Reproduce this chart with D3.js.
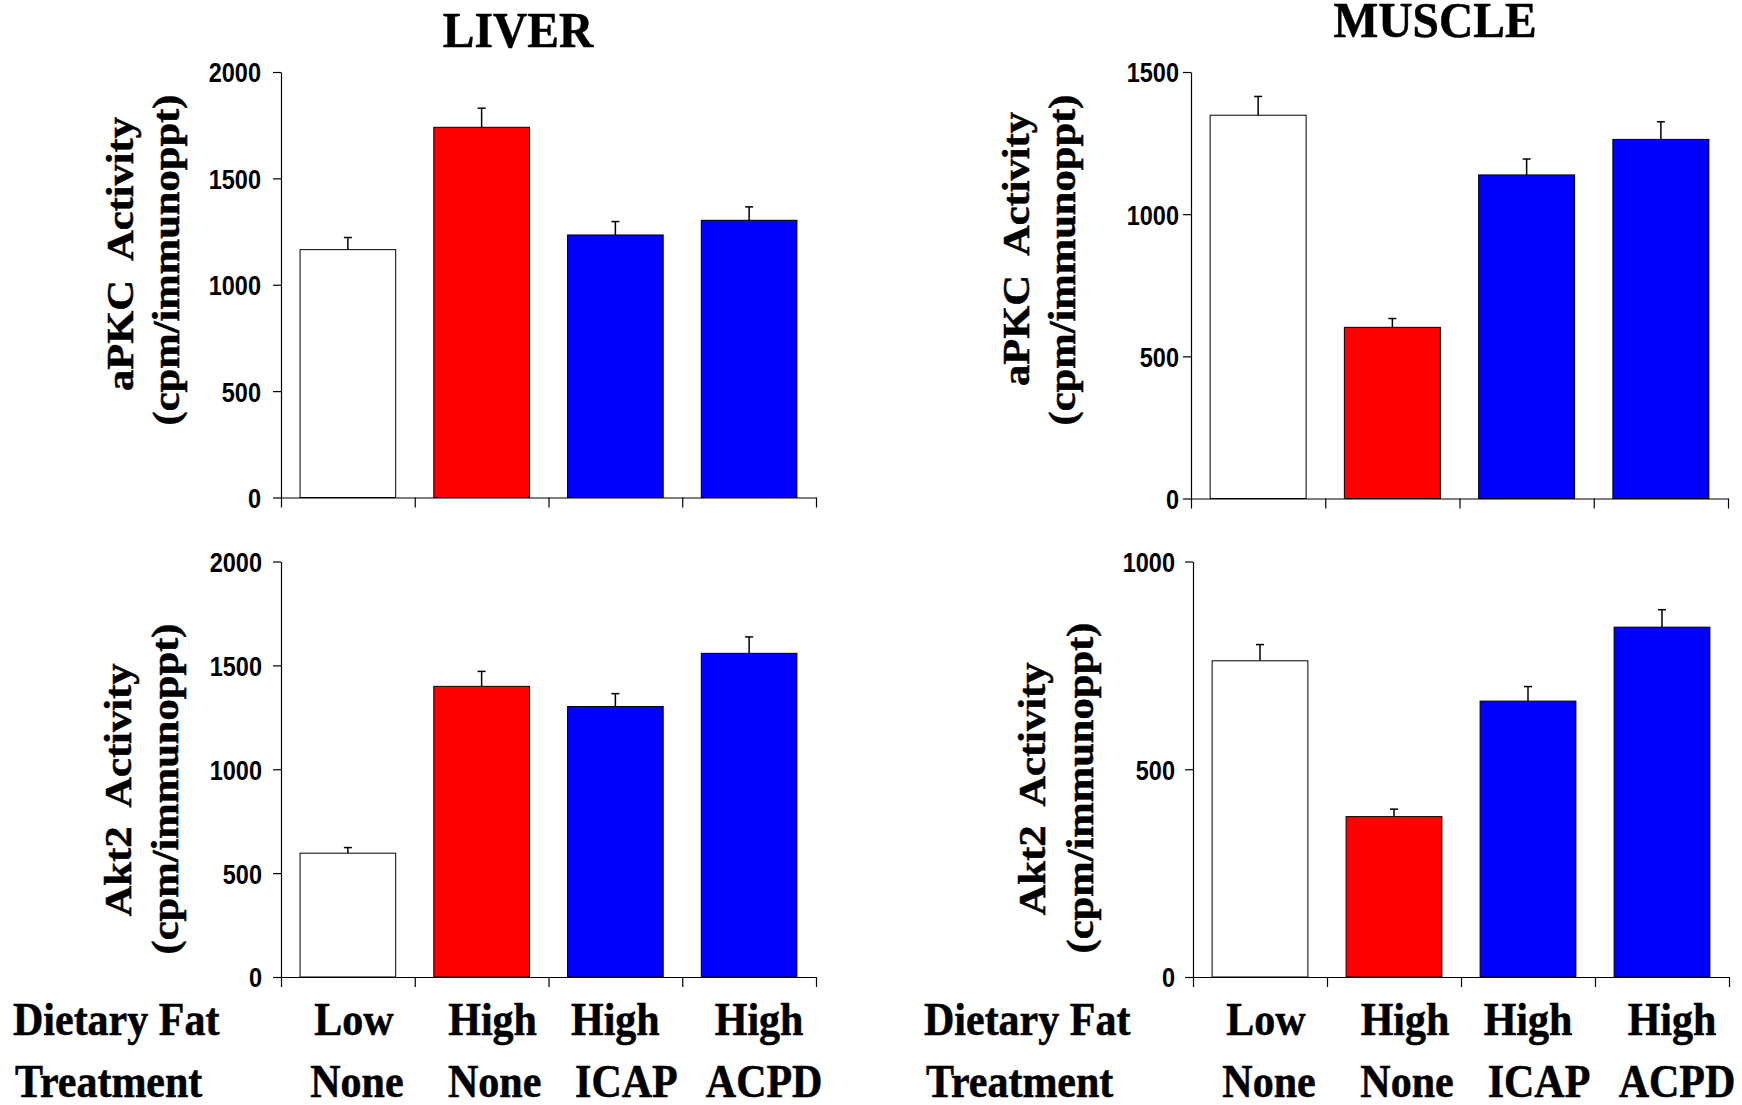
<!DOCTYPE html>
<html>
<head>
<meta charset="utf-8">
<script src="https://cdn.jsdelivr.net/npm/d3@7"></script>
<style>
  body { margin: 0; background: #fff; }
  svg { display: block; }
  text { white-space: pre; }
  text.serif { stroke: #000; stroke-width: 0.5px; }
</style>
</head>
<body>
<svg id="fig" width="1742" height="1105"></svg>
<script>
// ---- data ----
const dietaryFat = ["Low", "High", "High", "High"];
const treatment  = ["None", "None", "ICAP", "ACPD"];
const groups     = ["Low/None", "High/None", "High/ICAP", "High/ACPD"];
const barColors  = ["#ffffff", "#ff0000", "#0000ff", "#0000ff"];

const liverAPKC     = [1165, 1740, 1234, 1303];
const liverAPKCsem  = [57, 90, 63, 63];
const muscleAPKC    = [1348, 602, 1138, 1263];
const muscleAPKCsem = [66, 31, 56, 62];
const liverAkt2     = [596, 1399, 1302, 1558];
const liverAkt2sem  = [27, 72, 62, 79];
const muscleAkt2    = [761, 386, 664, 842];
const muscleAkt2sem = [39, 18, 35, 42];

const liverTicks      = [0, 500, 1000, 1500, 2000];
const muscleAPKCTicks = [0, 500, 1000, 1500];
const muscleAkt2Ticks = [0, 500, 1000];

const titles = ["LIVER", "MUSCLE"];
const apkcLabel = ["aPKC  Activity", "(cpm/immunoppt)"];
const akt2Label = ["Akt2  Activity", "(cpm/immunoppt)"];
const rowLabels = ["Dietary Fat", "Treatment"];

// ---- layout ----
const serif = "'Liberation Serif', 'Times New Roman', serif";
const sans  = "'Liberation Sans', Arial, sans-serif";
const svg = d3.select("#fig");

const panels = [
  { values: liverAPKC,  sem: liverAPKCsem,  ticks: liverTicks,
    left: 281,  right: 816,  bottom: 497.5, top: 72,    gap: 20,
    ylab: apkcLabel, ylX: [133, 179],   ylY: [254, 260] },
  { values: muscleAPKC, sem: muscleAPKCsem, ticks: muscleAPKCTicks,
    left: 1191, right: 1728, bottom: 498.5, top: 72,    gap: 12,
    ylab: apkcLabel, ylX: [1029, 1075], ylY: [249, 260] },
  { values: liverAkt2,  sem: liverAkt2sem,  ticks: liverTicks,
    left: 281,  right: 816,  bottom: 977,   top: 561.5, gap: 19,
    ylab: akt2Label, ylX: [131, 178],   ylY: [790, 789] },
  { values: muscleAkt2, sem: muscleAkt2sem, ticks: muscleAkt2Ticks,
    left: 1193, right: 1729, bottom: 977,   top: 561.5, gap: 18,
    ylab: akt2Label, ylX: [1045, 1093], ylY: [789, 788] }
];

const tickFont = 23.5, tickStretch = 1.18;

panels.forEach(p => {
  const g = svg.append("g");
  const x = d3.scaleBand().domain(groups).range([p.left, p.right])
    .paddingInner(0.285).paddingOuter(0.1425);
  const y = d3.scaleLinear().domain([0, d3.max(p.ticks)]).range([p.bottom, p.top]);
  const xb = d3.scaleLinear().domain([0, groups.length]).range([p.left, p.right]);

  // bars
  g.selectAll("rect.bar").data(p.values).join("rect")
    .attr("class", "bar")
    .attr("x", (d, i) => x(groups[i]))
    .attr("y", d => y(d))
    .attr("width", x.bandwidth())
    .attr("height", d => y(0) - y(d))
    .attr("fill", (d, i) => barColors[i])
    .attr("stroke", "#000").attr("stroke-width", 1);

  // upper error bars
  const eb = g.selectAll("g.err").data(p.values).join("g").attr("class", "err")
    .attr("stroke", "#000").attr("stroke-width", 1.5);
  eb.append("line")
    .attr("x1", (d, i) => x(groups[i]) + x.bandwidth() / 2)
    .attr("x2", (d, i) => x(groups[i]) + x.bandwidth() / 2)
    .attr("y1", d => y(d))
    .attr("y2", (d, i) => y(d + p.sem[i]));
  eb.append("line")
    .attr("x1", (d, i) => x(groups[i]) + x.bandwidth() / 2 - 4)
    .attr("x2", (d, i) => x(groups[i]) + x.bandwidth() / 2 + 4)
    .attr("y1", (d, i) => y(d + p.sem[i]))
    .attr("y2", (d, i) => y(d + p.sem[i]));

  // y axis
  const ya = g.append("g").attr("transform", `translate(${p.left},0)`)
    .call(d3.axisLeft(y).tickValues(p.ticks).tickFormat(d3.format("d"))
      .tickSizeInner(8).tickSizeOuter(0));
  ya.selectAll("path,line").attr("stroke", "#000").attr("stroke-width", 1.2);
  ya.selectAll(".tick text")
    .attr("x", null).attr("dy", null)
    .attr("fill", "#000")
    .attr("transform", `translate(${-p.gap},${0.716 * tickFont * tickStretch / 2}) scale(1,${tickStretch})`)
    .style("font-family", sans).style("font-weight", "bold").style("font-size", tickFont + "px");

  // x axis with group boundary ticks
  const xa = g.append("g").attr("transform", `translate(0,${p.bottom})`)
    .call(d3.axisBottom(xb).tickValues(d3.range(groups.length + 1)).tickFormat("")
      .tickSizeInner(10).tickSizeOuter(0));
  xa.selectAll("path,line").attr("stroke", "#000").attr("stroke-width", 1.2);

  // y axis title (two lines)
  p.ylab.forEach((t, k) => {
    g.append("text").attr("class", "serif")
      .attr("transform", `translate(${p.ylX[k]},${p.ylY[k]}) rotate(-90) scale(1.15,1)`)
      .attr("text-anchor", "middle")
      .style("font-family", serif).style("font-weight", "bold").style("font-size", "37px")
      .text(t);
  });
});

// column titles
[[518, 46.7], [1435, 37]].forEach(([cx, by], i) => {
  svg.append("text").attr("class", "serif")
    .attr("transform", `translate(${cx},${by}) scale(1,1.05)`)
    .attr("text-anchor", "middle")
    .style("font-family", serif).style("font-weight", "bold").style("font-size", "47.5px")
    .text(titles[i]);
});

// group labels under the lower panels
const rowBase = [1035, 1097];
const fatNudge = [6, 11, 0, 10];
const trtNudge = [9, 13, 11, 15];
[panels[2], panels[3]].forEach((p, j) => {
  const x = d3.scaleBand().domain(groups).range([p.left, p.right])
    .paddingInner(0.285).paddingOuter(0.1425);
  const rowLeft = j === 0 ? [13, 15] : [924, 926];
  const hl = (s, tx, ty, anchor) => svg.append("text").attr("class", "serif")
    .attr("transform", `translate(${tx},${ty}) scale(1,1.08)`)
    .attr("text-anchor", anchor)
    .style("font-family", serif).style("font-weight", "bold").style("font-size", "42px")
    .text(s);
  rowLabels.forEach((s, k) => hl(s, rowLeft[k], rowBase[k], "start"));
  groups.forEach((gName, i) => {
    const cx = x(gName) + x.bandwidth() / 2;
    hl(dietaryFat[i], cx + fatNudge[i], rowBase[0], "middle");
    hl(treatment[i],  cx + trtNudge[i], rowBase[1], "middle");
  });
});
</script>
</body>
</html>
